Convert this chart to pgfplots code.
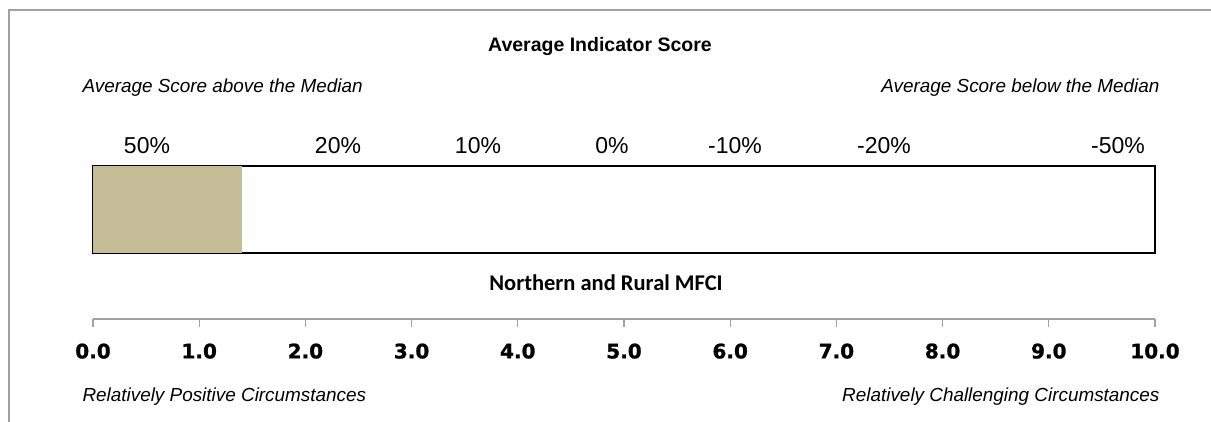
\documentclass[border=0pt]{standalone}
\usepackage{pgfplots}
\pgfplotsset{compat=1.18}
\usepackage{fontspec}
\setmainfont{Liberation Sans}
\newfontfamily\carlito{Carlito}
\newfontfamily\dejavub{DejaVu Sans Bold}[FakeBold=1.2]
\definecolor{tanbar}{HTML}{C4BD97}
\definecolor{framegray}{HTML}{A0A0A0}
\begin{document}
\begin{tikzpicture}[x=1pt,y=1pt]
\path[use as bounding box] (0,0) rectangle (1211,422);
\draw[framegray, line width=1.5pt] (9,0) -- (9,412) -- (1211,412);
% title
\node[font=\fontsize{19.5}{21}\selectfont\bfseries] at (600,375) {Average Indicator Score};
\node[font=\fontsize{18.9}{20}\selectfont\itshape, anchor=west] at (79,334) {Average Score above the Median};
\node[font=\fontsize{18.9}{20}\selectfont\itshape, anchor=east] at (1163,334) {Average Score below the Median};
% percent labels
\foreach \xx/\lab in {147/50\%, 338/20\%, 478/10\%, 612/0\%, 735/-10\%, 884/-20\%, 1118/-50\%}{
  \node[font=\fontsize{23}{25}\selectfont] at (\xx,276) {\lab};
}
% main bar axis
\begin{axis}[
  at={(93pt,169pt)}, anchor=south west,
  scale only axis, width=1062pt, height=87pt,
  xmin=0, xmax=10, ymin=0, ymax=1,
  axis line style={black, line width=2pt},
  xtick=\empty, ytick=\empty,
  clip=true,
]
\addplot[xbar, bar width=1, fill=tanbar, draw=none] coordinates {(1.4,0.5)};
\end{axis}
\node[font=\carlito\fontsize{22.5}{24}\selectfont\bfseries] at (606,139) {Northern and Rural MFCI};
% bottom scale axis
\begin{axis}[
  at={(93pt,103pt)}, anchor=south west,
  scale only axis, width=1062pt, height=10pt,
  xmin=0, xmax=10, ymin=0, ymax=1,
  axis x line=bottom, axis y line=none,
  axis line style={-, framegray, line width=1.3pt},
  xtick={0,1,...,10},
  tick align=outside,
  major tick length=8pt,
  xtick style={framegray, line width=1.3pt},
  xticklabel style={font=\dejavub\fontsize{20}{22}\selectfont, yshift=-13pt},
  xticklabel={\pgfmathprintnumber[fixed, fixed zerofill, precision=1]{\tick}},
  /pgf/number format/assume math mode=true,
]
\addplot[draw=none] coordinates {(0,0) (10,0)};
\end{axis}
\node[font=\fontsize{18.9}{20}\selectfont\itshape, anchor=west] at (79,25) {Relatively Positive Circumstances};
\node[font=\fontsize{18.9}{20}\selectfont\itshape, anchor=east] at (1163,25) {Relatively Challenging Circumstances};
\end{tikzpicture}
\end{document}
